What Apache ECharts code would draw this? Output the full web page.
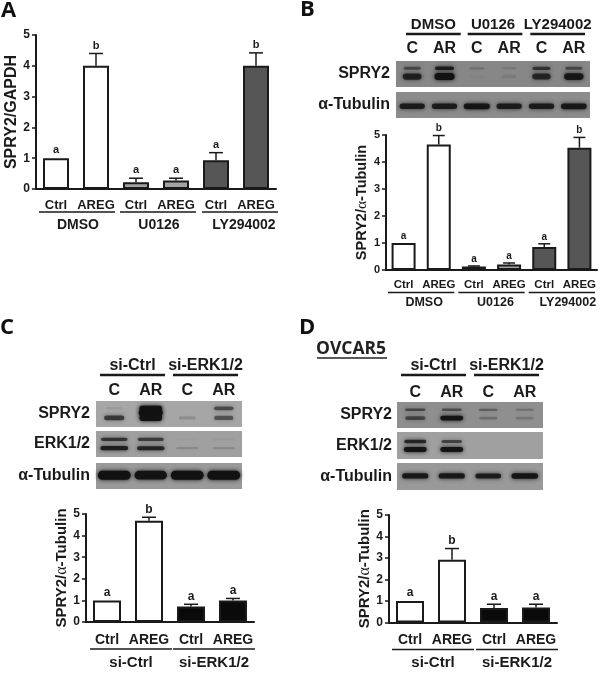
<!DOCTYPE html>
<html>
<head>
<meta charset="utf-8">
<title>SPRY2 blots</title>
<script src="https://cdn.jsdelivr.net/npm/echarts@6/dist/echarts.min.js"></script>
<style>
  html, body { margin: 0; background: #fff; }
  #main { width: 600px; height: 678px; }
</style>
</head>
<body>
<div id="main"></div>
<script>
// bar charts: categories, values and upper error limits
const treatLabels = ['Ctrl', 'AREG', 'Ctrl', 'AREG', 'Ctrl', 'AREG']
const siLabels = ['Ctrl', 'AREG', 'Ctrl', 'AREG']
const drugGroups = ['DMSO', 'U0126', 'LY294002']
const siGroups = ['si-Ctrl', 'si-ERK1/2']
const lettersSix = ['a', 'b', 'a', 'a', 'a', 'b']
const lettersFour = ['a', 'b', 'a', 'a']

const valuesA = [1, 4.0, 0.22, 0.28, 0.93, 4.0]
const errTopA = [1, 4.4, 0.35, 0.35, 1.18, 4.42]
const valuesB = [1, 4.65, 0.13, 0.2, 0.85, 4.53]
const errTopB = [1, 4.98, 0.15, 0.26, 0.97, 4.91]
const valuesC = [1, 4.69, 0.72, 1.0]
const errTopC = [1, 4.85, 0.82, 1.09]
const valuesD = [1, 2.92, 0.68, 0.7]
const errTopD = [1, 3.44, 0.85, 0.85]
const tickValues = [0, 1, 2, 3, 4, 5]

// blots: band darkness per lane, 0 = nothing, 1 = saturated
const laneSix = ['C', 'AR', 'C', 'AR', 'C', 'AR']
const laneFour = ['C', 'AR', 'C', 'AR']
const bSpry2Upper = [0.5, 0.85, 0.18, 0.12, 0.65, 0.5]
const bSpry2Lower = [0.8, 1, 0.04, 0.1, 0.75, 0.9]
const bTubulin = [0.85, 0.85, 0.95, 0.85, 0.85, 0.9]
const cSpry2Upper = [0.08, 1, 0, 0.55]
const cSpry2Mid = [0, 1, 0, 0]
const cSpry2Lower = [0.65, 1, 0.15, 0.5]
const cErkUpper = [0.7, 0.65, 0.02, 0.04]
const cErkLower = [0.85, 0.8, 0.15, 0.15]
const cTubulin = [1, 0.95, 1, 1]
const dSpry2Upper = [0.55, 0.5, 0.35, 0.25]
const dSpry2Lower = [0.55, 0.95, 0.25, 0.2]
const dErkUpper = [0.8, 0.6, 0, 0]
const dErkLower = [0.95, 0.95, 0, 0]
const dTubulin = [0.9, 0.9, 0.85, 0.95]

const FONT = '"Liberation Sans", Arial, sans-serif'
const INK = '#1a1a1a'
const WHITE = '#ffffff'
const MIDGREY = '#a3a3a3'
const DARKGREY = '#565656'
const BLACK = '#0a0a0a'

const grid = []
const xAxis = []
const yAxis = []
const series = []

function alphaName(text, size) {
  return {
    name: text,
    rich: { g: { fontFamily: '"Liberation Serif", serif', fontSize: size + 1, fontWeight: 'normal', color: INK } }
  }
}

// underlined group caption, drawn against the x scale of a grid
function addBrackets(idx, groups, spans, o) {
  series.push({
    type: 'custom',
    xAxisIndex: idx,
    yAxisIndex: idx,
    silent: true,
    z: 5,
    data: spans,
    renderItem(params, api) {
      const i = params.dataIndex
      const band = api.size([1, 0])[0]
      const base = api.coord([0, o.baseValue])[1]
      const shift = o.lineShifts ? o.lineShifts[i] : 0
      const x1 = api.coord([api.value(0), o.baseValue])[0] - band / 2 + o.inset + shift
      const x2 = api.coord([api.value(1), o.baseValue])[0] + band / 2 - o.inset + shift
      return {
        type: 'group',
        children: [{
          type: 'line',
          shape: { x1, y1: base + o.lineAt, x2, y2: base + o.lineAt },
          style: { stroke: INK, lineWidth: o.lineWidth }
        }, {
          type: 'text',
          x: (x1 + x2) / 2 + (o.textShifts ? o.textShifts[i] : 0),
          y: base + o.textAt,
          style: {
            text: groups[i],
            align: 'center',
            verticalAlign: 'middle',
            font: 'bold ' + o.size + 'px ' + FONT,
            fill: INK
          }
        }]
      }
    }
  })
}

function addBarPanel(p) {
  const idx = grid.length
  grid.push({ left: p.left, top: p.top, width: p.width, height: p.height })
  xAxis.push({
    type: 'category',
    gridIndex: idx,
    data: p.categories,
    axisLine: { lineStyle: { color: INK, width: 2 } },
    axisTick: { alignWithLabel: true, length: 4, lineStyle: { color: INK, width: 1.5 } },
    axisLabel: { color: INK, fontFamily: FONT, fontWeight: 'bold', fontSize: p.catSize, margin: p.catMargin, interval: 0 }
  })
  const nm = alphaName(p.yName, p.nameSize)
  yAxis.push({
    type: 'value',
    gridIndex: idx,
    min: 0,
    max: 5,
    interval: 1,
    name: nm.name,
    nameLocation: 'middle',
    nameGap: p.nameGap,
    nameTextStyle: { color: INK, fontFamily: FONT, fontWeight: 'bold', fontSize: p.nameSize, rich: nm.rich },
    axisLine: { show: true, lineStyle: { color: INK, width: 2 } },
    axisTick: { show: true, length: 4, lineStyle: { color: INK, width: 1.5 } },
    axisLabel: {
      color: INK, fontFamily: FONT, fontWeight: 'bold', fontSize: p.tickSize, margin: 6,
      customValues: tickValues
    },
    splitLine: { show: false }
  })
  series.push({
    type: 'bar',
    xAxisIndex: idx,
    yAxisIndex: idx,
    barWidth: p.barWidth,
    silent: true,
    data: p.values.map((v, i) => ({ value: v, itemStyle: { color: p.colors[i] } })),
    itemStyle: { borderColor: INK, borderWidth: 2 }
  })
  // error bars and significance letters
  series.push({
    type: 'custom',
    xAxisIndex: idx,
    yAxisIndex: idx,
    silent: true,
    z: 4,
    data: p.values.map((v, i) => [i, v, p.errTop[i]]),
    renderItem(params, api) {
      const bottom = api.coord([api.value(0), api.value(1)])
      const top = api.coord([api.value(0), api.value(2)])
      const children = []
      if (api.value(2) > api.value(1)) {
        children.push({
          type: 'line',
          shape: { x1: top[0], y1: bottom[1], x2: top[0], y2: top[1] },
          style: { stroke: INK, lineWidth: 1.5 }
        }, {
          type: 'line',
          shape: { x1: top[0] - p.capHalf, y1: top[1], x2: top[0] + p.capHalf, y2: top[1] },
          style: { stroke: INK, lineWidth: 1.5 }
        })
      }
      children.push({
        type: 'text',
        x: top[0],
        y: top[1] - p.letterGap,
        style: {
          text: p.letters[params.dataIndex],
          align: 'center',
          verticalAlign: 'middle',
          font: 'bold ' + p.letterSize + 'px ' + FONT,
          fill: INK
        }
      })
      return { type: 'group', children }
    }
  })
  addBrackets(idx, p.groups, p.spans, {
    baseValue: 0,
    inset: p.inset,
    lineAt: p.lineAt,
    lineWidth: 1.6,
    textAt: p.textAt,
    size: p.groupSize,
    lineShifts: p.lineShifts,
    textShifts: p.textShifts
  })
}

function addBlot(b) {
  const idx = grid.length
  grid.push({
    show: true,
    left: b.left,
    top: b.top,
    width: b.width,
    height: b.height,
    backgroundColor: b.bg,
    borderWidth: 0
  })
  xAxis.push({
    type: 'category',
    gridIndex: idx,
    position: 'top',
    data: b.lanes,
    axisLine: { show: false },
    axisTick: { show: false },
    axisLabel: {
      show: !!b.groups,
      color: INK, fontFamily: FONT, fontWeight: 'bold', fontSize: 16, margin: b.laneMargin || 6, interval: 0
    }
  })
  const nm = alphaName(b.label, 16)
  yAxis.push({
    type: 'value',
    gridIndex: idx,
    inverse: true,
    min: 0,
    max: 1,
    name: nm.name,
    nameLocation: 'middle',
    nameRotate: 0,
    nameGap: b.nameGap || 6,
    nameTextStyle: { color: INK, fontFamily: FONT, fontWeight: 'bold', fontSize: 16, rich: nm.rich },
    axisLine: { show: false },
    axisTick: { show: false },
    axisLabel: { show: false },
    splitLine: { show: false }
  })
  b.rows.forEach(row => {
    series.push({
      type: 'custom',
      xAxisIndex: idx,
      yAxisIndex: idx,
      silent: true,
      data: row.dark.map((d, i) => [i, row.at, d]),
      renderItem(params, api) {
        const d = api.value(2)
        if (d <= 0) return null
        const c = api.coord([api.value(0), api.value(1)])
        const band = api.size([1, 0])[0]
        const w = band * row.span * (0.7 + 0.3 * d)
        const h = row.thick * (0.45 + 0.55 * d)
        const color = 'rgba(18,18,18,' + d + ')'
        return {
          type: 'rect',
          shape: { x: c[0] - w / 2, y: c[1] - h / 2, width: w, height: h, r: h / 2 },
          style: { fill: color, shadowBlur: 4, shadowColor: color }
        }
      }
    })
  })
  if (b.groups) {
    addBrackets(idx, b.groups, b.spans, {
      baseValue: 0,
      inset: b.inset,
      lineAt: b.lineAt,
      lineWidth: 2.4,
      textAt: b.textAt,
      size: b.groupSize,
      lineShifts: b.lineShifts,
      textShifts: b.textShifts
    })
  }
}

// panel A
addBarPanel({
  left: 36, top: 35, width: 240, height: 154,
  categories: treatLabels, values: valuesA, errTop: errTopA, letters: lettersSix,
  colors: [WHITE, WHITE, MIDGREY, MIDGREY, DARKGREY, DARKGREY],
  groups: drugGroups, spans: [[0, 1], [2, 3], [4, 5]],
  yName: 'SPRY2/GAPDH', nameSize: 16, nameGap: 13, tickSize: 12,
  catSize: 13, catMargin: 10, barWidth: 26, capHalf: 7, letterGap: 8, letterSize: 11,
  inset: 2, lineAt: 23, textAt: 36, groupSize: 14,
  lineShifts: [1, 2, 4], textShifts: [1, 1, 4]
})

// panel B
addBlot({
  left: 396, top: 61, width: 194, height: 26, label: 'SPRY2', lanes: laneSix, bg: '#878787',
  rows: [{ at: 0.28, thick: 4, span: 0.62, dark: bSpry2Upper }, { at: 0.6, thick: 7, span: 0.62, dark: bSpry2Lower }],
  groups: drugGroups, spans: [[0, 1], [2, 3], [4, 5]],
  laneMargin: 4, inset: 5, lineAt: -27, textAt: -36, groupSize: 15,
  lineShifts: [5, 2, 0], textShifts: [0, -2, 0]
})
addBlot({
  left: 396, top: 92, width: 194, height: 26, label: 'α-Tubulin', lanes: laneSix, bg: '#8c8c8c',
  rows: [{ at: 0.55, thick: 6, span: 0.82, dark: bTubulin }]
})
addBarPanel({
  left: 386, top: 135, width: 211, height: 135,
  categories: treatLabels, values: valuesB, errTop: errTopB, letters: lettersSix,
  colors: [WHITE, WHITE, MIDGREY, MIDGREY, DARKGREY, DARKGREY],
  groups: drugGroups, spans: [[0, 1], [2, 3], [4, 5]],
  yName: 'SPRY2/{g|α}-Tubulin', nameSize: 14.5, nameGap: 10, tickSize: 11,
  catSize: 11.5, catMargin: 9, barWidth: 24, capHalf: 6, letterGap: 7, letterSize: 10,
  inset: 2, lineAt: 22.5, textAt: 33, groupSize: 12.5,
  textShifts: [3, 4, 6]
})

// panel C
addBlot({
  left: 96, top: 401, width: 146, height: 26, label: 'SPRY2', lanes: laneFour, bg: '#a6a6a6',
  rows: [
    { at: 0.28, thick: 5, span: 0.62, dark: cSpry2Upper },
    { at: 0.45, thick: 9, span: 0.66, dark: cSpry2Mid },
    { at: 0.65, thick: 6, span: 0.62, dark: cSpry2Lower }
  ],
  groups: siGroups, spans: [[0, 1], [2, 3]],
  laneMargin: 2, inset: 4, lineAt: -26, textAt: -35, groupSize: 16
})
addBlot({
  left: 96, top: 431, width: 146, height: 26, label: 'ERK1/2', lanes: laneFour, bg: '#a0a0a0',
  rows: [{ at: 0.32, thick: 4, span: 0.8, dark: cErkUpper }, { at: 0.66, thick: 4.5, span: 0.8, dark: cErkLower }]
})
addBlot({
  left: 96, top: 463, width: 146, height: 26, label: 'α-Tubulin', lanes: laneFour, bg: '#9a9a9a',
  rows: [{ at: 0.47, thick: 9, span: 0.9, dark: cTubulin }]
})
addBarPanel({
  left: 86, top: 514, width: 168, height: 108,
  categories: siLabels, values: valuesC, errTop: errTopC, letters: lettersFour,
  colors: [WHITE, WHITE, BLACK, BLACK],
  groups: siGroups, spans: [[0, 1], [2, 3]],
  yName: 'SPRY2/{g|α}-Tubulin', nameSize: 15, nameGap: 14, tickSize: 12,
  catSize: 14, catMargin: 11, barWidth: 28, capHalf: 7, letterGap: 8, letterSize: 12,
  inset: 1, lineAt: 27, textAt: 40.5, groupSize: 15,
  lineShifts: [3, 2], textShifts: [0, 0]
})

// panel D
addBlot({
  left: 397, top: 402, width: 146, height: 26, label: 'SPRY2', lanes: laneFour, bg: '#8f8f8f',
  rows: [{ at: 0.3, thick: 3.5, span: 0.64, dark: dSpry2Upper }, { at: 0.62, thick: 5, span: 0.64, dark: dSpry2Lower }],
  groups: siGroups, spans: [[0, 1], [2, 3]],
  nameGap: 5, laneMargin: 1, inset: 4, lineAt: -27, textAt: -36, groupSize: 16
})
addBlot({
  left: 397, top: 432, width: 146, height: 27, label: 'ERK1/2', lanes: laneFour, bg: '#a0a0a0',
  rows: [{ at: 0.35, thick: 4, span: 0.64, dark: dErkUpper }, { at: 0.65, thick: 5, span: 0.64, dark: dErkLower }],
  nameGap: 5
})
addBlot({
  left: 397, top: 463, width: 146, height: 27, label: 'α-Tubulin', lanes: laneFour, bg: '#999999',
  rows: [{ at: 0.48, thick: 5.5, span: 0.74, dark: dTubulin }],
  nameGap: 5
})
addBarPanel({
  left: 389, top: 515, width: 168, height: 107.5,
  categories: siLabels, values: valuesD, errTop: errTopD, letters: lettersFour,
  colors: [WHITE, WHITE, BLACK, BLACK],
  groups: siGroups, spans: [[0, 1], [2, 3]],
  yName: 'SPRY2/{g|α}-Tubulin', nameSize: 15, nameGap: 14, tickSize: 12,
  catSize: 14, catMargin: 11, barWidth: 28, capHalf: 7, letterGap: 8, letterSize: 12,
  inset: 1, lineAt: 27, textAt: 40, groupSize: 15,
  lineShifts: [2, 2], textShifts: [0, 0]
})

function panelLetter(text, x, y) {
  return {
    type: 'text',
    x, y,
    style: { text, font: 'bold 22px "Open Sans", sans-serif', fill: '#111', verticalAlign: 'middle' }
  }
}

const chart = echarts.init(document.getElementById('main'), null, { renderer: 'canvas' })
chart.setOption({
  animation: false,
  backgroundColor: '#fff',
  grid,
  xAxis,
  yAxis,
  series,
  graphic: [
    panelLetter('A', 1, 11),
    panelLetter('B', 300, 10),
    panelLetter('C', 0, 328),
    panelLetter('D', 299, 328),
    {
      type: 'text',
      x: 316, y: 349,
      style: { text: 'OVCAR5', font: 'bold 17.5px "Open Sans", sans-serif', fill: '#222', verticalAlign: 'middle' }
    },
    {
      type: 'line',
      shape: { x1: 317, y1: 358, x2: 387, y2: 358 },
      style: { stroke: '#222', lineWidth: 1.5 }
    }
  ]
})
</script>
</body>
</html>
